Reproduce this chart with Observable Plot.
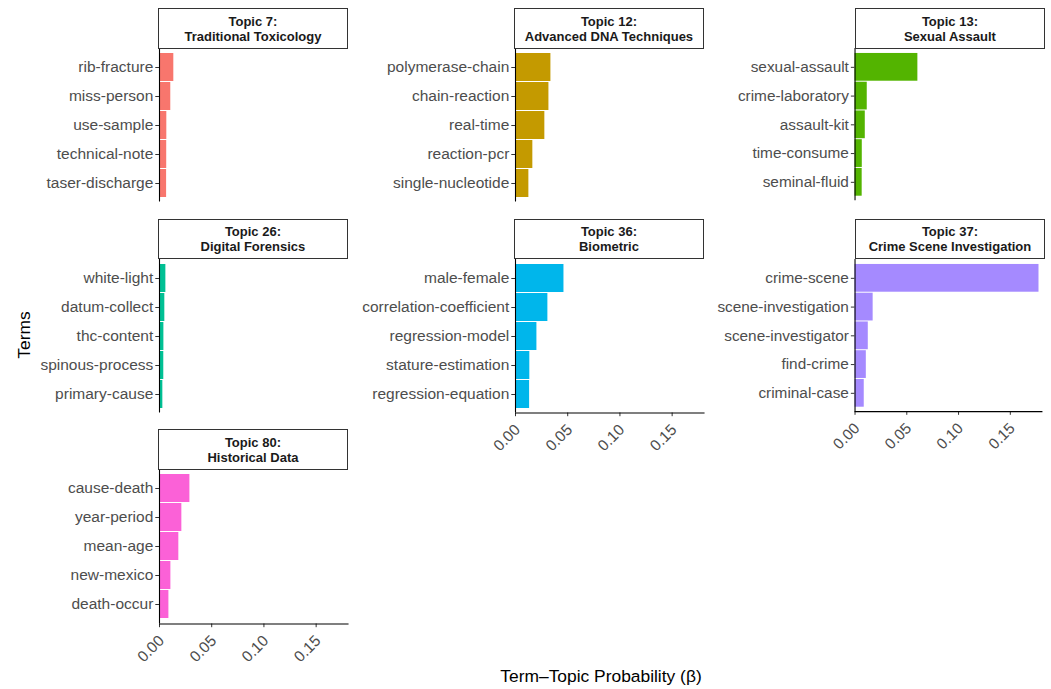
<!DOCTYPE html>
<html><head><meta charset="utf-8">
<script src="https://cdn.jsdelivr.net/npm/d3@7"></script>
<script src="https://cdn.jsdelivr.net/npm/@observablehq/plot@0.6"></script>
<style>
body{margin:0;background:#fff;font-family:"Liberation Sans",Arial,sans-serif;}
#root{position:relative;width:1051px;height:689px;overflow:hidden;background:#fff;}
.strip{position:absolute;box-sizing:border-box;border:1px solid #333;background:#fff;text-align:center;font-weight:bold;font-size:13px;color:#1a1a1a;line-height:15px;display:flex;flex-direction:column;justify-content:center;}
.panel{position:absolute;}
.title{position:absolute;font-size:17.4px;color:#000;white-space:nowrap;}
</style></head><body><div id="root"></div>
<script>
// ---- data ----
const topicIds = [7, 12, 13, 26, 36, 37, 80];
const topicNames = ["Traditional Toxicology", "Advanced DNA Techniques", "Sexual Assault", "Digital Forensics", "Biometric", "Crime Scene Investigation", "Historical Data"];
const topicColors = ["#F8766D", "#C49A00", "#53B400", "#00C094", "#00B6EB", "#A58AFF", "#FB61D7"];

const terms7 = ["rib-fracture", "miss-person", "use-sample", "technical-note", "taser-discharge"];
const beta7 = [0.0137, 0.0108, 0.0070, 0.0069, 0.0068];
const terms12 = ["polymerase-chain", "chain-reaction", "real-time", "reaction-pcr", "single-nucleotide"];
const beta12 = [0.0339, 0.0320, 0.0281, 0.0166, 0.0128];
const terms13 = ["sexual-assault", "crime-laboratory", "assault-kit", "time-consume", "seminal-fluid"];
const beta13 = [0.0607, 0.0118, 0.0099, 0.0070, 0.0069];
const terms26 = ["white-light", "datum-collect", "thc-content", "spinous-process", "primary-cause"];
const beta26 = [0.0061, 0.0051, 0.0042, 0.0041, 0.0032];
const terms36 = ["male-female", "correlation-coefficient", "regression-model", "stature-estimation", "regression-equation"];
const beta36 = [0.0464, 0.0310, 0.0205, 0.0137, 0.0135];
const terms37 = ["crime-scene", "scene-investigation", "scene-investigator", "find-crime", "criminal-case"];
const beta37 = [0.1777, 0.0175, 0.0128, 0.0109, 0.0089];
const terms80 = ["cause-death", "year-period", "mean-age", "new-mexico", "death-occur"];
const beta80 = [0.0291, 0.0214, 0.0185, 0.0109, 0.0090];

const xTicks = [0, 0.05, 0.10, 0.15];
const xMax = 0.1805;
const xTitle = "Term–Topic Probability (β)";
const yTitle = "Terms";

const allTerms = [terms7, terms12, terms13, terms26, terms36, terms37, terms80];
const allBetas = [beta7, beta12, beta13, beta26, beta36, beta37, beta80];

// ---- layout ----
const colLeft = [158.7, 514.7, 855.7];
const rowTop = [48.3, 258.8, 469.3];
const panelH = [153.5, 153.5, 154.5];
const panelW = 188.5, stripH = 40;
const ML = 170, MR = 10;
const root = document.getElementById("root");

topicIds.forEach((id, i) => {
  const col = i % 3, row = Math.floor(i / 3);
  const hasX = row === 2 || (row === 1 && col > 0);
  const data = allTerms[i].map((t, j) => ({term: t, beta: allBetas[i][j]}));
  const MB = hasX ? 50 : 1;
  const chart = Plot.plot({
    width: ML + panelW + MR,
    height: panelH[row] + MB,
    marginLeft: ML, marginRight: MR, marginTop: 0, marginBottom: MB,
    style: {fontFamily: '"Liberation Sans", Arial, sans-serif', fontSize: "15.5px", background: "transparent", overflow: "visible"},
    x: {domain: [0, xMax], axis: hasX ? undefined : null, label: null},
    y: {domain: allTerms[i], paddingInner: 0.04, paddingOuter: 0.12, label: null},
    marks: [
      Plot.barX(data, {x: "beta", y: "term", fill: topicColors[i]}),
      Plot.ruleX([0], {stroke: "#000", strokeWidth: 1.1}),
      Plot.axisY({tickSize: 3.7, tickPadding: 2.5, stroke: "#333", fill: "#4d4d4d", fontSize: 15.5, label: null}),
      hasX ? Plot.axisX({ticks: xTicks, tickSize: 3.7, tickFormat: () => "", stroke: "#333", label: null}) : null,
      hasX ? Plot.axisX({ticks: xTicks, tickFormat: d3.format(".2f"), tickRotate: -45, tickSize: 0, tickPadding: 6.7, dx: 2, dy: 7.5, fill: "#4d4d4d", fontSize: 15.5, label: null}) : null,
      hasX ? Plot.frame({anchor: "bottom", stroke: "#000", strokeWidth: 1.1}) : null
    ]
  });
  const wrap = document.createElement("div");
  wrap.className = "panel";
  wrap.style.left = (colLeft[col] - ML) + "px";
  wrap.style.top = rowTop[row] + "px";
  wrap.appendChild(chart);
  root.appendChild(wrap);

  const strip = document.createElement("div");
  strip.className = "strip";
  strip.style.left = (colLeft[col] - 0.5) + "px";
  strip.style.top = (rowTop[row] - stripH) + "px";
  strip.style.width = (panelW + 1) + "px";
  strip.style.height = (stripH + 0.5) + "px";
  strip.innerHTML = `<div>Topic ${id}:</div><div>${topicNames[i]}</div>`;
  root.appendChild(strip);
});

const xt = document.createElement("div");
xt.className = "title";
xt.textContent = xTitle;
xt.style.left = "601px"; xt.style.top = "676px";
xt.style.transform = "translate(-50%,-50%)";
root.appendChild(xt);

const yt = document.createElement("div");
yt.className = "title";
yt.textContent = yTitle;
yt.style.left = "24px"; yt.style.top = "335px";
yt.style.transform = "translate(-50%,-50%) rotate(-90deg)";
root.appendChild(yt);
</script>
</body></html>
